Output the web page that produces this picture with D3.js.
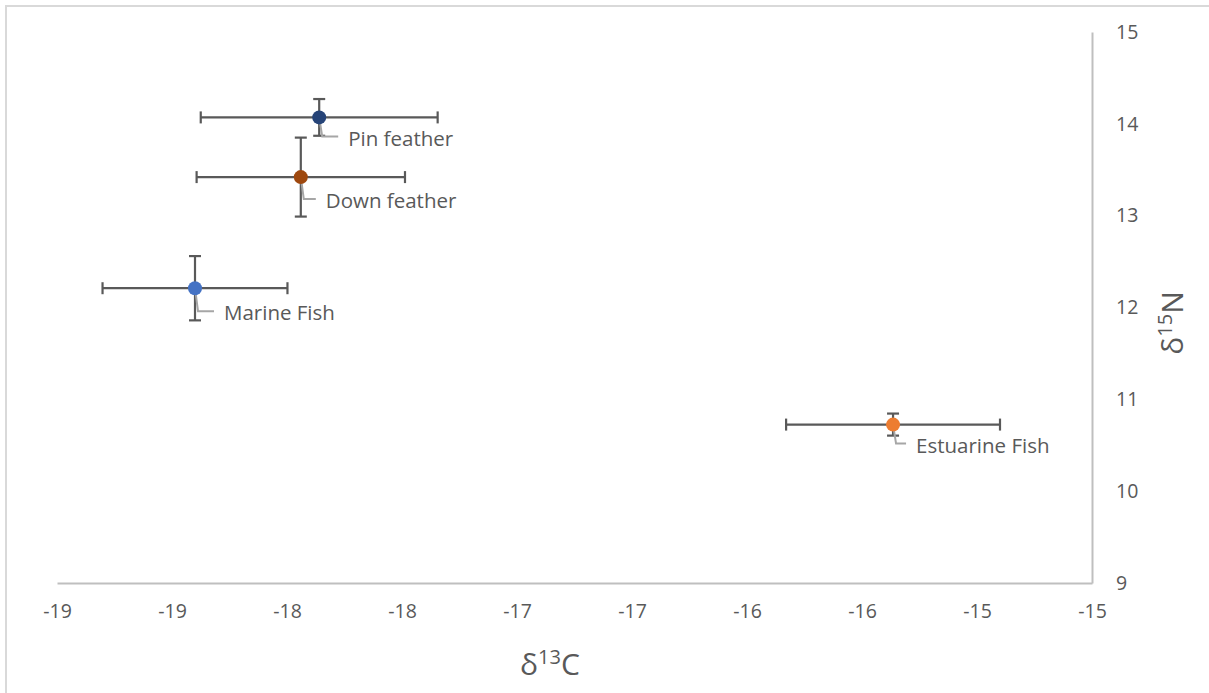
<!DOCTYPE html>
<html>
<head>
<meta charset="utf-8">
<script src="https://cdn.jsdelivr.net/npm/d3@7/dist/d3.min.js"></script>
<style>
  html, body { margin: 0; padding: 0; background: #fff; }
  svg { display: block; font-family: "Open Sans", Lato, sans-serif; }
</style>
</head>
<body>
<div id="chart"></div>
<script>
  // series
  var names = ['Pin feather', 'Down feather', 'Marine Fish', 'Estuarine Fish']
  var carbon = [-17.86, -17.94, -18.40, -15.365]
  var carbonErr = [0.515, 0.453, 0.402, 0.465]
  var nitrogen = [14.07, 13.42, 12.21, 10.725]
  var nitrogenErr = [0.20, 0.43, 0.35, 0.12]
  var colors = ['#264478', '#9E480E', '#4472C4', '#ED7D31']

  var xTicks = [-19, -18.5, -18, -17.5, -17, -16.5, -16, -15.5, -15, -14.5]
  var yTicks = [9, 10, 11, 12, 13, 14, 15]

  // data label placement (px offsets from marker), as laid out by hand in the original
  var labelDx = [29, 25, 29, 23]
  var labelDy = [21, 24, 25, 21]

  var width = 1209
  var height = 693
  var textColor = '#595959'
  var axisColor = '#bfbfbf'
  var font = '"Open Sans", Lato, sans-serif'

  var data = names.map(function (n, i) {
    return {
      name: n, x: carbon[i], xe: carbonErr[i], y: nitrogen[i], ye: nitrogenErr[i],
      color: colors[i], dx: labelDx[i], dy: labelDy[i]
    }
  })

  var svg = d3.select('#chart').append('svg')
    .attr('width', width)
    .attr('height', height)

  // chart border
  svg.append('rect')
    .attr('x', 6).attr('y', 6)
    .attr('width', width + 10).attr('height', height + 10)
    .attr('fill', 'none')
    .attr('stroke', '#d9d9d9')
    .attr('stroke-width', 2)

  var xScale = d3.scaleLinear().domain([-19, -14.5]).range([57, 1092])
  var yScale = d3.scaleLinear().domain([9, 15]).range([583, 32])

  // Excel style rounding (half away from zero), plain hyphen for minus
  function fmt (v) {
    var r = Math.sign(v) * Math.round(Math.abs(v))
    return (r < 0 ? '-' : '') + Math.abs(r)
  }

  var xAxis = svg.append('g')
    .attr('transform', 'translate(0,' + yScale(9) + ')')
    .call(d3.axisBottom(xScale).tickValues(xTicks).tickSize(0).tickPadding(21).tickFormat(fmt))
  var yAxis = svg.append('g')
    .attr('transform', 'translate(' + xScale(-14.5) + ',0)')
    .call(d3.axisRight(yScale).tickValues(yTicks).tickSize(0).tickPadding(24).tickFormat(fmt))

  ;[xAxis, yAxis].forEach(function (ax) {
    ax.select('.domain').attr('stroke', axisColor).attr('stroke-width', 2)
    ax.selectAll('text')
      .attr('fill', textColor)
      .style('font-size', '19.5px')
      .style('font-family', font)
  })

  // axis titles
  var xTitle = svg.append('text')
    .attr('x', 550).attr('y', 675)
    .attr('text-anchor', 'middle')
    .attr('fill', textColor)
    .style('font-size', '30px')
  xTitle.append('tspan').text('δ')
  xTitle.append('tspan').attr('dy', -11).style('font-size', '20px').text('13')
  xTitle.append('tspan').attr('dy', 11).text('C')

  var yTitle = svg.append('text')
    .attr('transform', 'translate(1183,323) rotate(-90)')
    .attr('text-anchor', 'middle')
    .attr('fill', textColor)
    .style('font-size', '30px')
  yTitle.append('tspan').text('δ')
  yTitle.append('tspan').attr('dy', -11).style('font-size', '20px').text('15')
  yTitle.append('tspan').attr('dy', 11).text('N')

  // error bars
  var errColor = '#595959'
  var cap = 6
  var bars = svg.append('g').classed('errors', true)
  data.forEach(function (d) {
    var cx = xScale(d.x)
    var cy = yScale(d.y)
    var x0 = xScale(d.x - d.xe)
    var x1 = xScale(d.x + d.xe)
    var y0 = yScale(d.y + d.ye)
    var y1 = yScale(d.y - d.ye)
    var segs = [
      [x0, cy, x1, cy], [x0, cy - cap, x0, cy + cap], [x1, cy - cap, x1, cy + cap],
      [cx, y0, cx, y1], [cx - cap, y0, cx + cap, y0], [cx - cap, y1, cx + cap, y1]
    ]
    bars.selectAll(null).data(segs).enter().append('line')
      .attr('x1', function (s) { return s[0] })
      .attr('y1', function (s) { return s[1] })
      .attr('x2', function (s) { return s[2] })
      .attr('y2', function (s) { return s[3] })
      .attr('stroke', errColor)
      .attr('stroke-width', 2.2)
  })

  // leader lines
  svg.append('g').classed('leaders', true).selectAll('polyline')
    .data(data)
    .enter()
    .append('polyline')
    .attr('points', function (d) {
      var cx = xScale(d.x)
      var cy = yScale(d.y)
      var ly = cy + d.dy - 2
      return [[cx, cy], [cx + 3, ly], [cx + d.dx - 10, ly]].join(' ')
    })
    .attr('fill', 'none')
    .attr('stroke', '#a6a6a6')
    .attr('stroke-width', 2)

  // markers
  svg.append('g').classed('points', true).selectAll('circle')
    .data(data)
    .enter()
    .append('circle')
    .attr('cx', function (d) { return xScale(d.x) })
    .attr('cy', function (d) { return yScale(d.y) })
    .attr('r', 7)
    .attr('fill', function (d) { return d.color })

  // data labels
  svg.append('g').classed('labels', true).selectAll('text')
    .data(data)
    .enter()
    .append('text')
    .attr('x', function (d) { return xScale(d.x) + d.dx })
    .attr('y', function (d) { return yScale(d.y) + d.dy })
    .attr('dy', '0.35em')
    .attr('fill', textColor)
    .style('font-size', '20.5px')
    .text(function (d) { return d.name })
</script>
</body>
</html>
